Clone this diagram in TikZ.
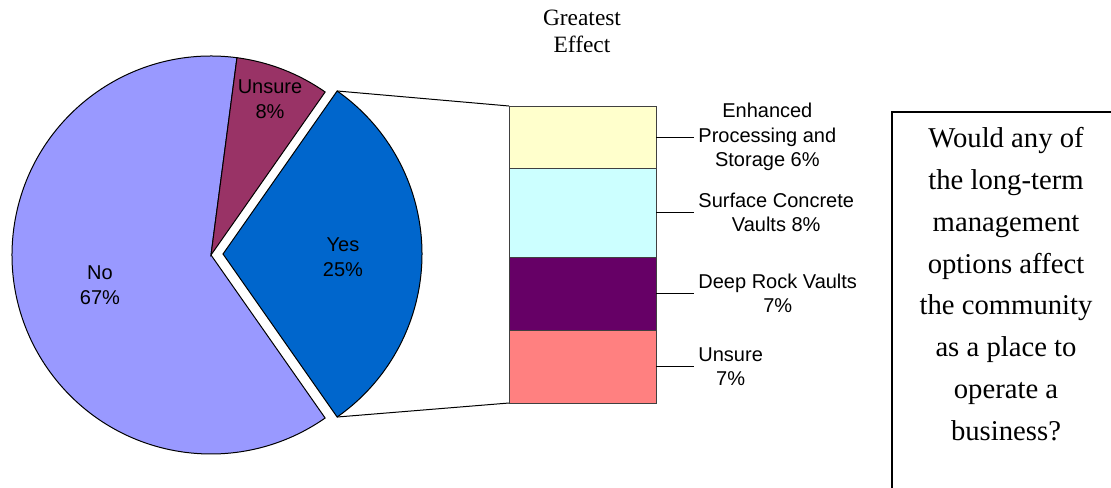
\documentclass[tikz,border=0pt]{standalone}
\usepackage{fontspec}
\setmainfont{Liberation Serif}
\setsansfont{Liberation Sans}
\usetikzlibrary{positioning}

\definecolor{noblue}{HTML}{9999FF}
\definecolor{unsurered}{HTML}{993366}
\definecolor{yesblue}{HTML}{0066CC}
\definecolor{epsyellow}{HTML}{FFFFCC}
\definecolor{scvcyan}{HTML}{CCFFFF}
\definecolor{drvpurple}{HTML}{660066}
\definecolor{unsurepink}{HTML}{FF8080}

\begin{document}
\begin{tikzpicture}[
    x=0.5pt, y=0.5pt,
    node distance=19pt,
    slice/.style={draw=black, line width=0.5pt},
    seg/.style={draw=black!75, line width=0.5pt, minimum width=73.5pt, inner sep=0pt, outer sep=0pt},
    lbl/.style={font=\sffamily\fontsize{10}{12.25}\selectfont, align=center, inner sep=2pt},
    leader/.style={draw=black, line width=0.5pt}
]
\useasboundingbox (0,0) rectangle (1111,-487);
% draw the pie
\coordinate (pc) at (211,-255);
\coordinate (yesc) at (223,-254);
\path[slice, fill=noblue] (pc) -- +(82.5:199) arc[start angle=82.5, end angle=305, radius=199] -- cycle;
\path[slice, fill=unsurered] (pc) -- +(55:199) arc[start angle=55, end angle=82.5, radius=199] -- cycle;
\path[slice, fill=yesblue] (yesc) -- +(-55:199) coordinate (yesbot)
    arc[start angle=-55, end angle=55, radius=199] coordinate (yestop) -- cycle;
\node[lbl] (nolbl) at (100,-285) {No\\67\%};
\node[lbl] (unsurelbl) at (270,-99) {Unsure\\8\%};
\node[lbl] (yeslbl) at (343,-257) {Yes\\25\%};
% draw the bar
\node[seg, fill=epsyellow, minimum height=31pt, anchor=north west] (eps) at (509,-106) {};
\node[seg, fill=scvcyan, minimum height=44.5pt, below=0pt of eps] (scv) {};
\node[seg, fill=drvpurple, minimum height=36.5pt, below=0pt of scv] (drv) {};
\node[seg, fill=unsurepink, minimum height=36.5pt, below=0pt of drv] (bunsure) {};
\node[font=\fontsize{11.7}{13.5}\selectfont, align=center] (title) at (582,-31) {Greatest\\Effect};
% bar labels
\node[lbl, right=of eps] (epslbl) {Enhanced\\Processing and\\Storage 6\%};
\node[lbl, right=of scv] (scvlbl) {Surface Concrete\\Vaults 8\%};
\node[lbl, right=of drv] (drvlbl) {Deep Rock Vaults\\7\%};
\node[lbl, right=of bunsure] (bunsurelbl) {Unsure\\7\%};
% draw the lines
\draw[leader] (yestop) -- (eps.north west)
    (yesbot) -- (bunsure.south west);
\draw[leader] (eps.east) -- (epslbl.west)
    (scv.east) -- (scvlbl.west)
    (drv.east) -- (drvlbl.west)
    (bunsure.east) -- (bunsurelbl.west);
% the question
\begin{scope}
\clip (0,0) rectangle (1111,-487);
\draw[line width=1pt] (892,-112) rectangle (1140,-520);
\end{scope}
\node[font=\fontsize{14.35}{20.9}\selectfont, align=center] (question) at (1006,-284)
    {Would any of\\the long-term\\management\\options affect\\the community\\as a place to\\operate a\\business?};
\end{tikzpicture}
\end{document}
